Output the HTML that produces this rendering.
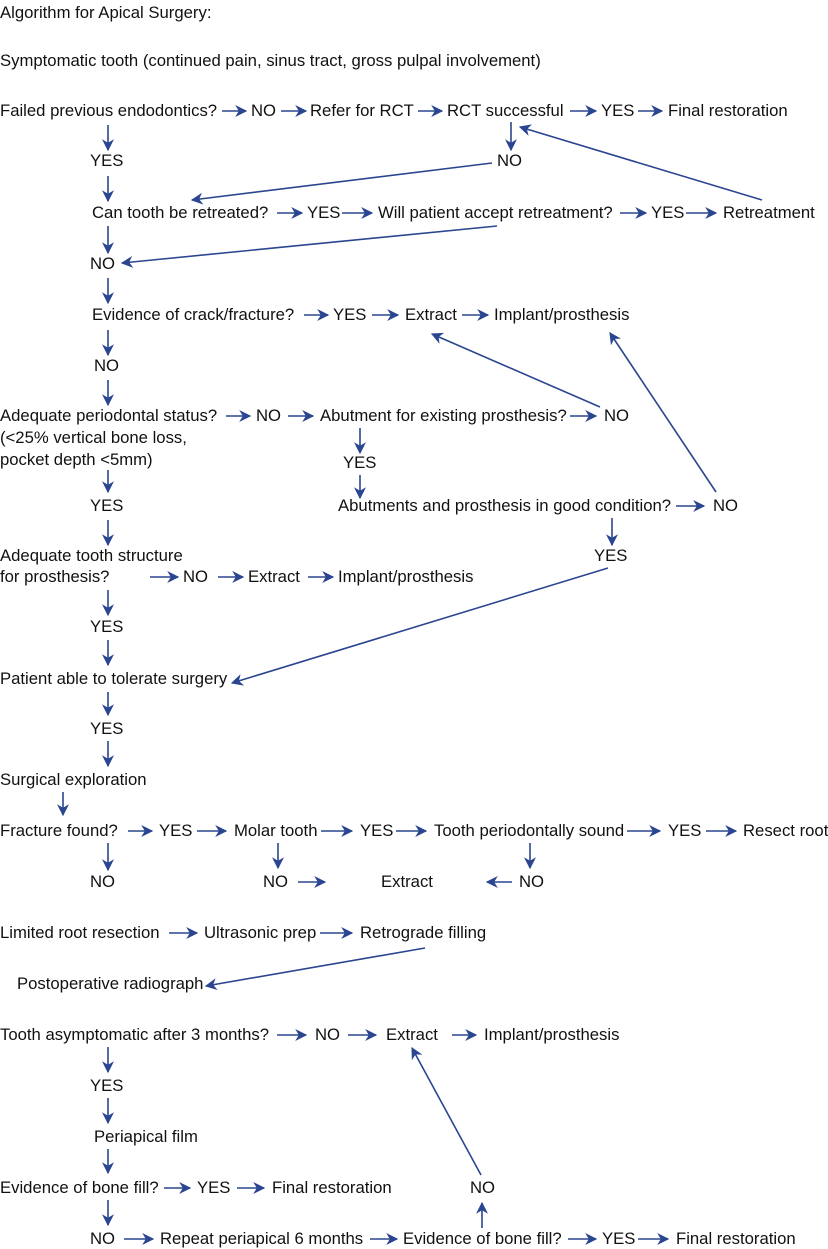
<!DOCTYPE html>
<html><head><meta charset="utf-8"><style>
html,body{margin:0;padding:0;background:#fff}
svg{display:block}
text{font-family:"Liberation Sans",Arial,sans-serif;font-size:16.7px;fill:#111}
line{stroke:#2b4690;stroke-width:1.6}
</style></head><body>
<svg width="828" height="1249" viewBox="0 0 828 1249">
<defs><marker id="a" viewBox="0 0 10 10" refX="9" refY="5" markerWidth="7.5" markerHeight="7.5" markerUnits="strokeWidth" orient="auto"><path d="M0,0 L10,5 L0,10 L3,5 Z" fill="#2b4690"/></marker></defs>
<g>
<text x="0" y="18">Algorithm for Apical Surgery:</text>
<text x="0" y="66">Symptomatic tooth (continued pain, sinus tract, gross pulpal involvement)</text>
<text x="0" y="116">Failed previous endodontics?</text><text x="251" y="116">NO</text><text x="310" y="116">Refer for RCT</text><text x="447" y="116">RCT successful</text><text x="601" y="116">YES</text><text x="668" y="116">Final restoration</text>
<text x="90" y="166">YES</text><text x="497" y="166">NO</text>
<text x="92" y="218">Can tooth be retreated?</text><text x="307" y="218">YES</text><text x="378" y="218">Will patient accept retreatment?</text><text x="651" y="218">YES</text><text x="723" y="218">Retreatment</text>
<text x="90" y="269">NO</text>
<text x="92" y="320">Evidence of crack/fracture?</text><text x="333" y="320">YES</text><text x="405" y="320">Extract</text><text x="494" y="320">Implant/prosthesis</text>
<text x="94" y="371">NO</text>
<text x="0" y="421">Adequate periodontal status?</text><text x="256" y="421">NO</text><text x="320" y="421">Abutment for existing prosthesis?</text><text x="604" y="421">NO</text>
<text x="0" y="443">(&lt;25% vertical bone loss,</text><text x="0" y="465">pocket depth &lt;5mm)</text>
<text x="343" y="468">YES</text>
<text x="90" y="511">YES</text><text x="338" y="511">Abutments and prosthesis in good condition?</text><text x="713" y="511">NO</text>
<text x="0" y="561">Adequate tooth structure</text><text x="594" y="561">YES</text>
<text x="0" y="582">for prosthesis?</text><text x="183" y="582">NO</text><text x="248" y="582">Extract</text><text x="338" y="582">Implant/prosthesis</text>
<text x="90" y="632">YES</text>
<text x="0" y="684">Patient able to tolerate surgery</text>
<text x="90" y="734">YES</text>
<text x="0" y="785">Surgical exploration</text>
<text x="0" y="836">Fracture found?</text><text x="159" y="836">YES</text><text x="234" y="836">Molar tooth</text><text x="360" y="836">YES</text><text x="434" y="836">Tooth periodontally sound</text><text x="668" y="836">YES</text><text x="743" y="836">Resect root</text>
<text x="90" y="887">NO</text><text x="263" y="887">NO</text><text x="381" y="887">Extract</text><text x="519" y="887">NO</text>
<text x="0" y="938">Limited root resection</text><text x="204" y="938">Ultrasonic prep</text><text x="360" y="938">Retrograde filling</text>
<text x="17" y="989">Postoperative radiograph</text>
<text x="0" y="1040">Tooth asymptomatic after 3 months?</text><text x="315" y="1040">NO</text><text x="386" y="1040">Extract</text><text x="484" y="1040">Implant/prosthesis</text>
<text x="90" y="1091">YES</text>
<text x="94" y="1142">Periapical film</text>
<text x="0" y="1193">Evidence of bone fill?</text><text x="197" y="1193">YES</text><text x="272" y="1193">Final restoration</text><text x="470" y="1193">NO</text>
<text x="90" y="1244">NO</text><text x="160" y="1244">Repeat periapical 6 months</text><text x="403" y="1244">Evidence of bone fill?</text><text x="602" y="1244">YES</text><text x="676" y="1244">Final restoration</text>
</g>
<g marker-end="url(#a)">
<line x1="222" y1="111" x2="246" y2="111"/><line x1="281" y1="111" x2="306" y2="111"/><line x1="418" y1="111" x2="442" y2="111"/><line x1="570" y1="111" x2="596" y2="111"/><line x1="638" y1="111" x2="662" y2="111"/>
<line x1="108" y1="125" x2="108" y2="150"/><line x1="108" y1="176" x2="108" y2="201"/>
<line x1="511" y1="122" x2="511" y2="150"/>
<line x1="762" y1="200" x2="520" y2="127"/>
<line x1="492" y1="163" x2="192" y2="200"/>
<line x1="277" y1="213" x2="302" y2="213"/><line x1="342" y1="213" x2="372" y2="213"/><line x1="620" y1="213" x2="646" y2="213"/><line x1="686" y1="213" x2="716" y2="213"/>
<line x1="497" y1="226" x2="122" y2="263"/>
<line x1="108" y1="226" x2="108" y2="253"/><line x1="108" y1="278" x2="108" y2="303"/>
<line x1="304" y1="315" x2="328" y2="315"/><line x1="372" y1="315" x2="398" y2="315"/><line x1="462" y1="315" x2="488" y2="315"/>
<line x1="108" y1="330" x2="108" y2="355"/><line x1="108" y1="380" x2="108" y2="405"/>
<line x1="226" y1="416" x2="250" y2="416"/><line x1="288" y1="416" x2="313" y2="416"/><line x1="570" y1="416" x2="596" y2="416"/>
<line x1="600" y1="407" x2="432" y2="334"/><line x1="716" y1="492" x2="610" y2="333"/>
<line x1="360" y1="428" x2="360" y2="453"/><line x1="360" y1="475" x2="360" y2="498"/>
<line x1="676" y1="506" x2="704" y2="506"/>
<line x1="108" y1="470" x2="108" y2="492"/><line x1="108" y1="520" x2="108" y2="545"/>
<line x1="612" y1="518" x2="612" y2="545"/>
<line x1="150" y1="577" x2="178" y2="577"/><line x1="218" y1="577" x2="243" y2="577"/><line x1="308" y1="577" x2="333" y2="577"/>
<line x1="108" y1="590" x2="108" y2="615"/><line x1="108" y1="640" x2="108" y2="665"/>
<line x1="608" y1="568" x2="232" y2="683"/>
<line x1="108" y1="692" x2="108" y2="715"/><line x1="108" y1="741" x2="108" y2="766"/>
<line x1="63" y1="792" x2="63" y2="815"/>
<line x1="128" y1="831" x2="152" y2="831"/><line x1="197" y1="831" x2="226" y2="831"/><line x1="321" y1="831" x2="352" y2="831"/><line x1="396" y1="831" x2="426" y2="831"/><line x1="627" y1="831" x2="660" y2="831"/><line x1="706" y1="831" x2="736" y2="831"/>
<line x1="108" y1="843" x2="108" y2="870"/><line x1="278" y1="843" x2="278" y2="868"/><line x1="530" y1="843" x2="530" y2="868"/>
<line x1="298" y1="882" x2="325" y2="882"/><line x1="512" y1="882" x2="487" y2="882"/>
<line x1="169" y1="933" x2="197" y2="933"/><line x1="320" y1="933" x2="352" y2="933"/>
<line x1="425" y1="948" x2="206" y2="986"/>
<line x1="277" y1="1035" x2="306" y2="1035"/><line x1="348" y1="1035" x2="376" y2="1035"/><line x1="452" y1="1035" x2="476" y2="1035"/>
<line x1="108" y1="1047" x2="108" y2="1072"/><line x1="108" y1="1098" x2="108" y2="1123"/><line x1="108" y1="1149" x2="108" y2="1173"/>
<line x1="164" y1="1188" x2="190" y2="1188"/><line x1="237" y1="1188" x2="264" y2="1188"/>
<line x1="481" y1="1175" x2="412" y2="1048"/><line x1="482" y1="1228" x2="482" y2="1203"/>
<line x1="108" y1="1200" x2="108" y2="1225"/>
<line x1="124" y1="1239" x2="153" y2="1239"/><line x1="370" y1="1239" x2="397" y2="1239"/><line x1="568" y1="1239" x2="596" y2="1239"/><line x1="638" y1="1239" x2="668" y2="1239"/>
</g>
</svg>
</body></html>
